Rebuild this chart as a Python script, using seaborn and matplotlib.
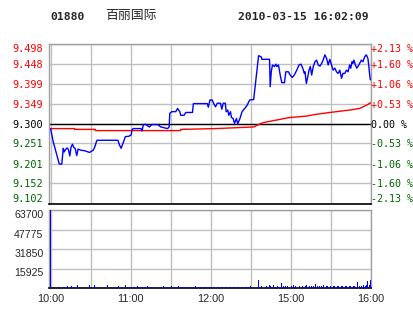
import matplotlib
matplotlib.use("Agg")
import matplotlib.pyplot as plt
import seaborn as sns
import pandas as pd

# ---------------- data ----------------
prev_close = 9.300
price_ticks = [9.498, 9.448, 9.399, 9.349, 9.300, 9.251, 9.201, 9.152, 9.102]
pct_labels = ["+2.13 %", "+1.60 %", "+1.06 %", "+0.53 %", "0.00 %",
              "-0.53 %", "-1.06 %", "-1.60 %", "-2.13 %"]
vol_ticks = [0, 15925, 31850, 47775, 63700]
vol_tick_labels = ["", "15925", "31850", "47775", "63700"]
time_ticks = [0, 30, 60, 90, 120, 150, 180, 210, 240]
time_labels = ["10:00", "", "11:00", "", "12:00", "", "15:00", "", "16:00"]

price_minute = [0, 2, 6.5, 8.4, 9.5, 10.2, 11.2, 12.4, 13.4, 14.4, 15.4, 16.4, 17.4, 18.4,
                19.6, 20.6, 23.1, 25.6, 28.1, 29.3, 31.8, 33.0, 34.3, 34.8, 50.5, 51.7,
                52.9, 54.2, 56.1, 58.7, 60.4, 61.1, 62.1, 67.8, 68.6, 69.5, 71.0, 74.0,
                76.0, 80.3, 82.7, 85.2, 87.7, 88.9, 89.4, 90.9, 93.9, 95.2, 96.9, 97.6,
                100.1, 101.4, 106.4, 107.1, 117.5, 118.3, 119.5, 121.2, 122.5, 123.7,
                125.0, 127.4, 128.4, 129.5, 131.0, 131.7, 132.9, 133.6, 134.9, 135.6,
                136.9, 137.9, 139.4, 140.3, 141.8, 143.6, 145.6, 147.4, 149.3, 152.3,
                153.5, 154.8, 156.0, 158.0, 158.5, 164.2, 164.7, 165.5, 166.4, 167.9,
                169.0, 169.7, 170.9, 172.2, 173.4, 175.4, 176.4, 178.4, 179.6, 181.3,
                182.8, 184.6, 186.3, 187.8, 189.1, 190.3, 190.8, 191.8, 192.8, 193.8,
                194.8, 195.8, 197.0, 198.3, 199.5, 200.7, 202.0, 203.3, 204.4, 205.7,
                207.0, 208.2, 209.4, 210.7, 211.9, 213.2, 214.4, 215.6, 216.9, 218.2,
                219.3, 220.6, 221.9, 223.1, 224.3, 225.1, 226.1, 226.8, 227.5, 228.6,
                229.6, 230.5, 231.8, 233.1, 234.3, 235.5, 236.8, 238.0, 238.7, 239.2,
                239.8]
price_value = [9.288, 9.255, 9.200, 9.200, 9.239, 9.230, 9.236, 9.240, 9.236, 9.220, 9.243,
               9.249, 9.241, 9.239, 9.221, 9.237, 9.234, 9.233, 9.230, 9.229, 9.234, 9.241,
               9.255, 9.259, 9.259, 9.247, 9.239, 9.251, 9.268, 9.269, 9.272, 9.286, 9.288,
               9.288, 9.282, 9.297, 9.299, 9.292, 9.298, 9.298, 9.292, 9.290, 9.288, 9.292,
               9.326, 9.330, 9.330, 9.338, 9.330, 9.321, 9.321, 9.328, 9.328, 9.350, 9.350,
               9.341, 9.359, 9.359, 9.349, 9.342, 9.351, 9.351, 9.336, 9.351, 9.351, 9.330,
               9.334, 9.321, 9.330, 9.316, 9.313, 9.301, 9.313, 9.300, 9.311, 9.330, 9.338,
               9.346, 9.359, 9.360, 9.396, 9.433, 9.469, 9.466, 9.460, 9.460, 9.392, 9.429,
               9.446, 9.442, 9.448, 9.442, 9.446, 9.421, 9.402, 9.402, 9.429, 9.429, 9.421,
               9.415, 9.421, 9.433, 9.446, 9.448, 9.438, 9.425, 9.429, 9.400, 9.415, 9.433,
               9.442, 9.421, 9.442, 9.454, 9.458, 9.446, 9.443, 9.450, 9.458, 9.471, 9.462,
               9.446, 9.460, 9.446, 9.433, 9.438, 9.429, 9.425, 9.433, 9.413, 9.425, 9.425,
               9.433, 9.429, 9.446, 9.438, 9.454, 9.450, 9.458, 9.446, 9.438, 9.442, 9.450,
               9.458, 9.454, 9.466, 9.471, 9.462, 9.442, 9.425, 9.409]

avg_minute = [0, 18.0, 18.1, 33.5, 33.6, 97.5, 97.6, 123.7, 152.3, 156.0, 157.3, 159.7,
              166.0, 172.2, 178.4, 184.6, 192.0, 198.3, 207.0, 214.4, 224.3, 231.8,
              236.8, 240]
avg_value = [9.288, 9.288, 9.286, 9.286, 9.283, 9.283, 9.286, 9.288, 9.292, 9.298, 9.300,
             9.303, 9.307, 9.311, 9.315, 9.317, 9.319, 9.323, 9.327, 9.330, 9.334, 9.338,
             9.346, 9.352]

vol_minute = [0, 2, 6, 7, 9, 10, 12, 13, 15, 16, 19, 20, 29, 33, 34, 36, 37, 43, 48, 50,
              51, 53, 56, 59, 60, 62, 63, 65, 66, 68, 69, 71, 73, 74, 76, 78, 79, 85, 86,
              88, 91, 93, 95, 96, 98, 99, 101, 102, 104, 105, 108, 109, 111, 113, 114,
              116, 117, 119, 120, 122, 123, 125, 126, 128, 129, 131, 132, 134, 135, 137,
              138, 140, 141, 143, 144, 146, 147, 149, 150, 156, 158, 162, 164, 165, 167,
              170, 171, 173, 175, 176, 178, 181, 182, 184, 187, 189, 191, 192, 194, 196,
              197, 199, 200, 202, 203, 205, 207, 208, 210, 212, 213, 215, 216, 218, 219,
              221, 222, 224, 225, 227, 228, 230, 232, 233, 235, 236, 237, 238, 239, 240]
vol_value = [63500, 1000, 1200, 1200, 1200, 1200, 1200, 1400, 1200, 1400, 1200, 2200,
             2600, 2200, 1200, 1200, 1000, 2400, 1200, 1000, 1600, 1200, 2800, 1200, 1200,
             1200, 1000, 1600, 1200, 1200, 1200, 1000, 1400, 1200, 1000, 1200, 1200, 1800,
             1200, 1200, 1400, 1200, 1200, 1400, 1200, 1200, 1200, 1000, 1200, 1200, 1200,
             1400, 1000, 1200, 1200, 1200, 1200, 1200, 1200, 1200, 1200, 1200, 1200, 1200,
             1200, 1200, 1200, 1200, 1200, 1200, 1200, 1200, 1200, 1200, 1200, 1200, 1200,
             1200, 1400, 6800, 1500, 1800, 2200, 1500, 2600, 1300, 1200, 4000, 1800, 1500,
             1600, 1800, 2200, 1400, 1500, 1400, 1800, 2600, 1500, 1600, 1500, 3300, 1800,
             1500, 1800, 2400, 2000, 1400, 1700, 1800, 1500, 1900, 1500, 1600, 1400, 1700,
             1500, 1800, 1500, 1600, 1500, 4900, 1700, 2000, 2600, 1800, 2800, 6000, 2500,
             6800]

# ---------------- figure ----------------
sns.set_style("white")
plt.rcParams['font.family'] = ['DejaVu Sans Mono', 'Noto Sans CJK SC']

W, H = 414, 314
fig = plt.figure(figsize=(W / 100, H / 100), dpi=100)

def frac(x0, y0, x1, y1):
    return [x0 / W, 1 - y1 / H, (x1 - x0) / W, (y1 - y0) / H]

grid_c = "#c0c0c0"
edge_c = "#a0a0a0"
red = "#ff0000"
green = "#006600"
XLIM = (-1.2, 240.3)

def level_color(v):
    if v > prev_close + 1e-9:
        return red
    if v < prev_close - 1e-9:
        return green
    return "black"

ax = fig.add_axes(frac(49, 44, 371, 203.5))
axv = fig.add_axes(frac(49, 210, 371, 288))

price_df = pd.DataFrame({"minute": price_minute, "price": price_value})
avg_df = pd.DataFrame({"minute": avg_minute, "price": avg_value})
sns.lineplot(data=avg_df, x="minute", y="price", ax=ax, color=red, linewidth=1.0,
             estimator=None, sort=False, zorder=3)
sns.lineplot(data=price_df, x="minute", y="price", ax=ax, color="#0000ff", linewidth=1.0,
             estimator=None, sort=False, zorder=4)

ax.set_xlim(*XLIM)
ax.set_ylim(price_ticks[-1], price_ticks[0])
ax.set_xticks(time_ticks)
ax.set_xticklabels([])
ax.set_yticks(price_ticks)
ax.set_yticklabels([f"{v:.3f}" for v in price_ticks], fontsize=7.4)
for lbl, v in zip(ax.get_yticklabels(), price_ticks):
    lbl.set_color(level_color(v))
ax.tick_params(axis="both", length=0, pad=4)
ax.grid(True, color=grid_c, linewidth=1.0)
ax.axhline(prev_close, color="black", linewidth=1.0, zorder=2)
ax.set_xlabel("")
ax.set_ylabel("")
for s in ["top", "left", "right"]:
    ax.spines[s].set_color(edge_c)
    ax.spines[s].set_linewidth(1.0)
ax.spines["bottom"].set_color("black")
ax.spines["bottom"].set_linewidth(1.2)

ax2 = ax.twinx()
ax2.set_ylim(ax.get_ylim())
ax2.set_yticks(price_ticks)
ax2.set_yticklabels(pct_labels, fontsize=7.2)
for lbl, v in zip(ax2.get_yticklabels(), price_ticks):
    lbl.set_color(level_color(v))
ax2.tick_params(axis="y", length=0, pad=0.3)
for s in ax2.spines.values():
    s.set_visible(False)

# keep the extreme labels inside the panel, as in the reference
for a in (ax, ax2):
    for lbl in a.get_yticklabels():
        y = lbl.get_position()[1]
        if abs(y - price_ticks[0]) < 1e-6:
            lbl.set_verticalalignment("top")
        elif abs(y - price_ticks[-1]) < 1e-6:
            lbl.set_verticalalignment("bottom")

# volume
vol_df = pd.DataFrame({"minute": vol_minute, "volume": vol_value})
sns.barplot(data=vol_df, x="minute", y="volume", native_scale=True, width=0.8,
            color="#0000ff", saturation=1, linewidth=0, ax=axv, zorder=3)
axv.set_xlim(*XLIM)
axv.set_ylim(0, 63700)
axv.set_xticks(time_ticks)
axv.set_xticklabels(time_labels, fontsize=7.8, family="Liberation Sans")
axv.set_yticks(vol_ticks)
axv.set_yticklabels(vol_tick_labels, fontsize=7.6, family="Liberation Sans")
for lbl in axv.get_yticklabels():
    lbl.set_verticalalignment("top")
axv.tick_params(axis="both", length=0, pad=4)
axv.grid(True, color=grid_c, linewidth=1.0)
axv.set_axisbelow(True)
axv.set_xlabel("")
axv.set_ylabel("")
for s in ["top", "left", "right"]:
    axv.spines[s].set_color(edge_c)
    axv.spines[s].set_linewidth(1.0)
axv.spines["bottom"].set_color("black")
axv.spines["bottom"].set_linewidth(1.2)

# header
fig.text(50 / W, 1 - 17 / H, "01880", fontsize=8.2, fontweight="bold",
         family="DejaVu Sans Mono", va="center", ha="left")
fig.text(105 / W, 1 - 16 / H, "百丽国际", fontsize=9.3,
         family=["Noto Sans CJK SC", "DejaVu Sans"], va="center", ha="left")
fig.text(238 / W, 1 - 17 / H, "2010-03-15 16:02:09", fontsize=8.2, fontweight="bold",
         family="DejaVu Sans Mono", va="center", ha="left")

fig.savefig("out.png", dpi=100, facecolor="white")
